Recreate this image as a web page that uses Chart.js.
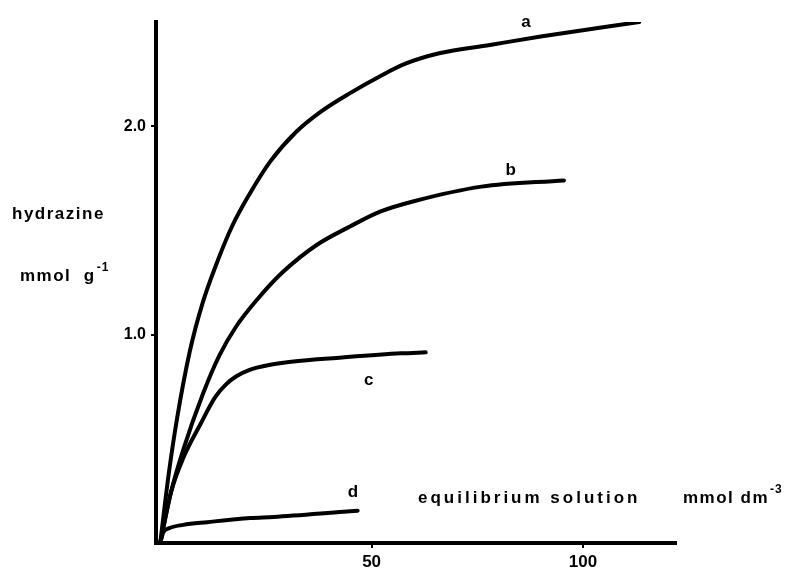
<!DOCTYPE html>
<html>
<head>
<meta charset="utf-8">
<script src="https://cdn.jsdelivr.net/npm/chart.js@4/dist/chart.umd.min.js"></script>
<style>
  html, body { margin: 0; padding: 0; background: #fff; }
</style>
</head>
<body>
<canvas id="chart" width="791" height="571"></canvas>
<script>
// Equilibrium concentration (mmol dm-3) and hydrazine uptake (mmol g-1) for curves a-d
const concA   = [0, 2, 4, 7, 10, 13.5, 17, 21, 26, 32, 38, 45, 52, 58, 66, 78, 90, 113.3];
const uptakeA = [0, 0.33, 0.60, 0.92, 1.15, 1.35, 1.52, 1.67, 1.83, 1.97, 2.07, 2.16, 2.24, 2.30, 2.35, 2.39, 2.43, 2.50];

const concB   = [0, 2.5, 5.5, 10, 14, 18, 23, 29, 37, 45, 52, 60, 76, 95.5];
const uptakeB = [0, 0.24, 0.45, 0.71, 0.90, 1.04, 1.17, 1.30, 1.43, 1.52, 1.59, 1.64, 1.71, 1.74];

const concC   = [0, 2.5, 5.5, 9.5, 13, 15.5, 18, 21, 26, 31, 43, 57, 62.8];
const uptakeC = [0, 0.24, 0.41, 0.57, 0.70, 0.76, 0.80, 0.83, 0.855, 0.87, 0.89, 0.91, 0.915];

const concD   = [0, 0.7, 2.0, 5.45, 11.1, 21.3, 26.8, 43.4, 46.7];
const uptakeD = [0, 0.05, 0.07, 0.087, 0.10, 0.12, 0.125, 0.15, 0.155];

const curveNames = ['a', 'b', 'c', 'd'];
const xTickValues = [50, 100];
const yTickValues = [1.0, 2.0];

const toPoints = (xs, ys) => xs.map((x, i) => ({ x: x, y: ys[i] }));

const lineStyle = {
  borderColor: '#000',
  borderWidth: 4,
  pointRadius: 0,
  fill: false,
  cubicInterpolationMode: 'monotone',
  borderCapStyle: 'round',
  borderJoinStyle: 'round'
};

// Curve letters, placed in data units beside each curve
const curveLabelAt = {
  a: { x: 86.5, y: 2.50 },
  b: { x: 82.9, y: 1.79 },
  c: { x: 49.3, y: 0.78 },
  d: { x: 45.6, y: 0.245 }
};

const FAMILY = '"Liberation Sans", Arial, sans-serif';

function drawText(ctx, text, x, y, size, spacing) {
  ctx.font = 'bold ' + size + 'px ' + FAMILY;
  ctx.letterSpacing = spacing + 'px';
  ctx.textAlign = 'left';
  ctx.textBaseline = 'alphabetic';
  ctx.fillText(text, x, y);
  return ctx.measureText(text).width;
}

function drawWithSup(ctx, base, sup, x, y, spacing) {
  const w = drawText(ctx, base, x, y, 17, spacing);
  drawText(ctx, sup, x + w + 1, y - 10, 12, 1);
}

const annotations = {
  id: 'annotations',
  afterDraw(chart) {
    const ctx = chart.ctx;
    const xs = chart.scales.x, ys = chart.scales.y;
    ctx.save();
    ctx.fillStyle = '#000';

    // curve letters
    ctx.font = 'bold 17px ' + FAMILY;
    ctx.textAlign = 'center';
    ctx.textBaseline = 'middle';
    curveNames.forEach(n => {
      const p = curveLabelAt[n];
      ctx.fillText(n, xs.getPixelForValue(p.x), ys.getPixelForValue(p.y));
    });

    // y-axis title
    drawText(ctx, 'hydrazine', 12, 219, 17, 1.5);
    drawWithSup(ctx, 'mmol  g', '-1', 20, 281, 1.5);

    // x-axis title
    drawText(ctx, 'equilibrium solution', 418, 503, 17, 3);
    drawWithSup(ctx, 'mmol dm', '-3', 683, 503, 1.5);
    ctx.restore();
  }
};

new Chart(document.getElementById('chart'), {
  type: 'line',
  data: {
    datasets: [
      Object.assign({ label: 'a', data: toPoints(concA, uptakeA) }, lineStyle),
      Object.assign({ label: 'b', data: toPoints(concB, uptakeB) }, lineStyle),
      Object.assign({ label: 'c', data: toPoints(concC, uptakeC) }, lineStyle),
      Object.assign({ label: 'd', data: toPoints(concD, uptakeD) }, lineStyle)
    ]
  },
  options: {
    responsive: false,
    animation: false,
    events: [],
    layout: { padding: { top: 22, right: 115, left: 0, bottom: 0 } },
    plugins: { legend: { display: false }, tooltip: { enabled: false } },
    scales: {
      x: {
        type: 'linear',
        min: -1,
        max: 122,
        afterBuildTicks: s => { s.ticks = xTickValues.map(v => ({ value: v })); },
        afterFit: s => { s.height = 28; },
        border: { color: '#000', width: 4 },
        grid: { drawOnChartArea: false, drawTicks: true, tickLength: 5, color: '#000', lineWidth: 2 },
        ticks: {
          color: '#000',
          padding: 4,
          font: { family: FAMILY, size: 17, weight: 'bold' },
          callback: v => String(v)
        }
      },
      y: {
        type: 'linear',
        min: 0,
        max: 2.5,
        afterBuildTicks: s => { s.ticks = yTickValues.map(v => ({ value: v })); },
        afterFit: s => { s.width = 156; },
        border: { color: '#000', width: 4 },
        grid: { drawOnChartArea: false, drawTicks: true, tickLength: 5, color: '#000', lineWidth: 2 },
        ticks: {
          color: '#000',
          padding: 5,
          font: { family: FAMILY, size: 16, weight: 'bold' },
          callback: v => v.toFixed(1)
        }
      }
    }
  },
  plugins: [annotations]
});
</script>
</body>
</html>
